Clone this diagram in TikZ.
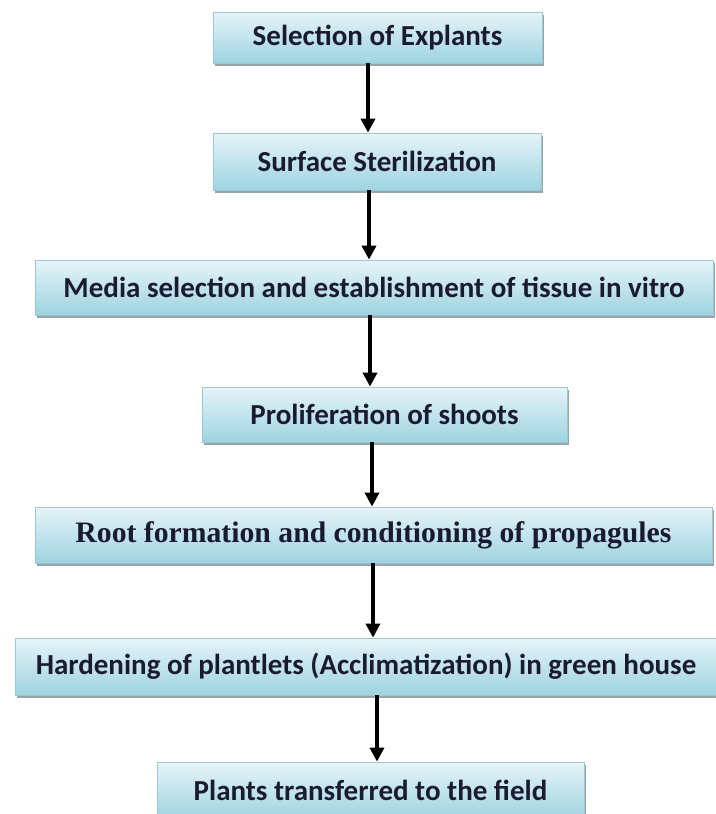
\documentclass[tikz,border=0pt]{standalone}
\usepackage{fontspec}
\setmainfont{Carlito}
\newfontfamily\serifbold{Liberation Serif}
\usetikzlibrary{arrows.meta,shadows}
\definecolor{stepTop}{HTML}{E6F4F8}
\definecolor{stepBottom}{HTML}{9ED3E1}
\definecolor{stepEdge}{HTML}{9CC8D4}
\definecolor{stepInk}{HTML}{1A1A30}
\definecolor{stepShade}{HTML}{7E8E94}

\begin{document}
\begin{tikzpicture}[x=1pt,y=-1pt,
  stagebox/.style={draw=stepEdge, line width=0.8pt, top color=stepTop,
    bottom color=stepBottom, text=stepInk, inner sep=0pt,
    font=\fontsize{29}{34}\selectfont\bfseries,
    drop shadow={shadow xshift=2pt, shadow yshift=-3pt, fill=stepShade,
      opacity=0.8}},
  flow/.style={line width=3.8pt, -{Triangle[length=14pt,width=14pt]}}]
  \useasboundingbox (0,0) rectangle (715,814);
  \fill[white] (0,0) rectangle (715,814);

  \node[stagebox, minimum width=329pt, minimum height=51pt] (s1) at (377.5,37.5)
    {Selection of Explants};
  \node[stagebox, minimum width=328pt, minimum height=57pt] (s2) at (377,161.5)
    {Surface Sterilization};
  \node[stagebox, minimum width=678pt, minimum height=55pt] (s3) at (374,287.5)
    {Media selection and establishment of tissue in vitro};
  \node[stagebox, minimum width=365pt, minimum height=55pt] (s4) at (384.5,414.5)
    {Proliferation of shoots};
  \node[stagebox, minimum width=677pt, minimum height=56pt,
    font=\fontsize{29.7}{34}\serifbold\bfseries]
    (s5) at (373.5,535) {Root formation and conditioning of propagules};
  \node[stagebox, minimum width=702pt, minimum height=57pt] (s6) at (366,666.5)
    {Hardening of plantlets (Acclimatization) in green house};
  \node[stagebox, minimum width=427pt, minimum height=57pt] (s7) at (370.5,790.5)
    {Plants transferred to the field};

  \foreach \a/\b/\x in {s1/s2/368,s2/s3/369,s3/s4/370,s4/s5/372,s5/s6/373,s6/s7/377}
    \draw[flow] (\a.south -| \x,0) -- (\b.north -| \x,0);
\end{tikzpicture}
\end{document}
